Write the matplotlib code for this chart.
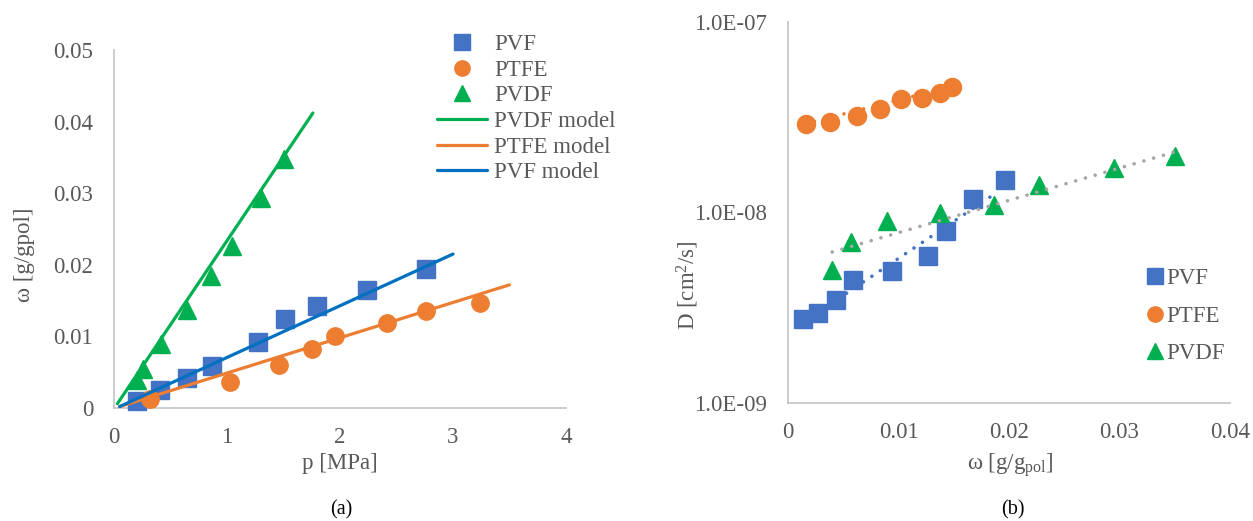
import matplotlib
matplotlib.use("Agg")
import matplotlib.pyplot as plt
from matplotlib.lines import Line2D
from matplotlib.ticker import FixedLocator, FuncFormatter, NullLocator

plt.rcParams["font.family"] = ["Liberation Serif", "DejaVu Serif"]
plt.rcParams["mathtext.fontset"] = "custom"
plt.rcParams["mathtext.rm"] = "Liberation Serif"
plt.rcParams["mathtext.it"] = "Liberation Serif:italic"

# ---- (a) sorption isotherms: omega vs pressure ----
p_pvf = [0.20, 0.41, 0.65, 0.87, 1.27, 1.51, 1.80, 2.24, 2.76]
w_pvf = [0.0010, 0.0025, 0.0042, 0.0059, 0.0092, 0.0124, 0.0142, 0.0165, 0.0194]

p_ptfe = [0.32, 1.03, 1.46, 1.75, 1.96, 2.42, 2.76, 3.24]
w_ptfe = [0.0013, 0.0036, 0.0060, 0.0082, 0.0100, 0.0119, 0.0136, 0.0147]

p_pvdf = [0.20, 0.26, 0.42, 0.65, 0.86, 1.04, 1.30, 1.50]
w_pvdf = [0.0039, 0.0054, 0.0089, 0.0137, 0.0184, 0.0226, 0.0293, 0.0348]

# model lines (start / end points)
p_pvdf_model = [0.03, 1.76]
w_pvdf_model = [0.0006, 0.0412]
p_ptfe_model = [0.05, 3.50]
w_ptfe_model = [0.0002, 0.0172]
p_pvf_model = [0.05, 3.00]
w_pvf_model = [0.0002, 0.0215]

# ---- (b) diffusivity vs concentration ----
c_pvf = [0.0014, 0.0027, 0.0043, 0.0059, 0.0094, 0.0127, 0.0143, 0.0167, 0.0196]
d_pvf = [2.76e-9, 2.96e-9, 3.47e-9, 4.44e-9, 4.94e-9, 5.91e-9, 8.0e-9, 1.18e-8, 1.48e-8]

c_ptfe = [0.0016, 0.0038, 0.0062, 0.0083, 0.0102, 0.0121, 0.0138, 0.0148]
d_ptfe = [2.92e-8, 2.99e-8, 3.21e-8, 3.49e-8, 3.95e-8, 3.99e-8, 4.24e-8, 4.56e-8]

c_pvdf = [0.0040, 0.0057, 0.0090, 0.0138, 0.0186, 0.0227, 0.0295, 0.0350]
d_pvdf = [4.99e-9, 7.0e-9, 9.0e-9, 9.9e-9, 1.09e-8, 1.39e-8, 1.71e-8, 1.98e-8]

# exponential trend lines (end points; straight on a log-y axis)
c_pvf_trend = [0.0053, 0.0186]
d_pvf_trend = [3.77e-9, 1.24e-8]
c_ptfe_trend = [0.0015, 0.0150]
d_ptfe_trend = [2.92e-8, 4.61e-8]
c_pvdf_trend = [0.0040, 0.0350]
d_pvdf_trend = [6.2e-9, 2.08e-8]

x_ticks_a = [0, 1, 2, 3, 4]
y_ticks_a = [0, 0.01, 0.02, 0.03, 0.04, 0.05]
x_ticks_b = [0, 0.01, 0.02, 0.03, 0.04]
y_ticks_b = [1e-9, 1e-8, 1e-7]

BLUE = "#4472C4"
ORANGE = "#ED7D31"
GREEN = "#00B050"
MODEL_BLUE = "#0070C0"
GRAY_TREND = "#A5A5A5"
TEXT = "#595959"
SPINE = "#C8C8C8"
FS = 16.5

fig = plt.figure(figsize=(12.53, 5.21), dpi=100)
W, H = 1253, 521


def axes_at(x0, y0, x1, y1):
    return fig.add_axes([x0 / W, 1 - y1 / H, (x1 - x0) / W, (y1 - y0) / H])


def style(ax):
    for s in ("top", "right"):
        ax.spines[s].set_visible(False)
    for s in ("left", "bottom"):
        ax.spines[s].set_color(SPINE)
        ax.spines[s].set_linewidth(1.3)
    ax.tick_params(length=0, labelsize=FS, labelcolor=TEXT)
    ax.tick_params(axis="x", pad=14)
    ax.tick_params(axis="y", pad=15)


# ---------------- panel (a) ----------------
ax1 = axes_at(114, 50, 566, 408)
style(ax1)
ax1.set_xlim(0, 4)
ax1.set_ylim(0, 0.05)
ax1.xaxis.set_major_locator(FixedLocator(x_ticks_a))
ax1.yaxis.set_major_locator(FixedLocator(y_ticks_a))
ax1.xaxis.set_major_formatter(FuncFormatter(lambda v, _: f"{v:g}"))
ax1.yaxis.set_major_formatter(FuncFormatter(lambda v, _: "0" if v == 0 else f"{v:.2f}"))

ax1.plot(p_pvf, w_pvf, ls="none", marker="s", ms=12.5, color=BLUE, zorder=3, clip_on=False)
ax1.plot(p_ptfe, w_ptfe, ls="none", marker="o", ms=12.5, color=ORANGE, zorder=3, clip_on=False)
ax1.plot(p_pvdf, w_pvdf, ls="none", marker="^", ms=13, color=GREEN, zorder=3, clip_on=False)
ax1.plot(p_pvdf_model, w_pvdf_model, color=GREEN, lw=2.3, solid_capstyle="round", zorder=4)
ax1.plot(p_ptfe_model, w_ptfe_model, color=ORANGE, lw=2.3, solid_capstyle="round", zorder=4)
ax1.plot(p_pvf_model, w_pvf_model, color=MODEL_BLUE, lw=2.3, solid_capstyle="round", zorder=4)

ax1.set_xlabel("p [MPa]", fontsize=FS, color=TEXT)
ax1.xaxis.set_label_coords(0.5, -0.154)
ax1.xaxis.label.set_va("center")
ax1.set_ylabel("ω [g/gpol]", fontsize=FS, color=TEXT)
ax1.yaxis.set_label_coords(-0.197, 0.427)
ax1.yaxis.label.set_va("center")

handles_a = [
    Line2D([], [], ls="none", marker="s", ms=11, color=BLUE),
    Line2D([], [], ls="none", marker="o", ms=11, color=ORANGE),
    Line2D([], [], ls="none", marker="^", ms=11, color=GREEN),
    Line2D([], [], color=GREEN, lw=2.3, solid_capstyle="round"),
    Line2D([], [], color=ORANGE, lw=2.3, solid_capstyle="round"),
    Line2D([], [], color=MODEL_BLUE, lw=2.3, solid_capstyle="round"),
]
labels_a = ["PVF", "PTFE", "PVDF", "PVDF model", "PTFE model", "PVF model"]
leg_a = fig.legend(handles_a, labels_a, loc="upper left",
                   bbox_to_anchor=(437 / W, 1 - 34 / H), frameon=False,
                   fontsize=FS, labelcolor=TEXT, handlelength=2.2,
                   handletextpad=0.3, labelspacing=0.2, borderpad=0,
                   borderaxespad=0)

# ---------------- panel (b) ----------------
ax2 = axes_at(788, 22, 1230, 403)
style(ax2)
ax2.set_yscale("log")
ax2.set_xlim(0, 0.04)
ax2.set_ylim(1e-9, 1e-7)
ax2.xaxis.set_major_locator(FixedLocator(x_ticks_b))
ax2.yaxis.set_major_locator(FixedLocator(y_ticks_b))
ax2.yaxis.set_minor_locator(NullLocator())
ax2.xaxis.set_major_formatter(FuncFormatter(lambda v, _: "0" if v == 0 else f"{v:.2f}"))
ax2.yaxis.set_major_formatter(FuncFormatter(lambda v, _: f"{v:.1E}"))

ax2.plot(c_pvf, d_pvf, ls="none", marker="s", ms=12.5, color=BLUE, zorder=3)
ax2.plot(c_ptfe, d_ptfe, ls="none", marker="o", ms=13, color=ORANGE, zorder=3)
ax2.plot(c_pvdf, d_pvdf, ls="none", marker="^", ms=13, color=GREEN, zorder=3)

dots = (0, (0.01, 2.8))
ax2.plot(c_pvf_trend, d_pvf_trend, color=BLUE, lw=2.6, ls=dots, dash_capstyle="round", zorder=4)
ax2.plot(c_ptfe_trend, d_ptfe_trend, color=ORANGE, lw=2.6, ls=dots, dash_capstyle="round", zorder=2)
ax2.plot(c_pvdf_trend, d_pvdf_trend, color=GRAY_TREND, lw=2.6, ls=dots, dash_capstyle="round", zorder=4)

ax2.set_xlabel(r"ω [g/g$_{\mathrm{pol}}$]", fontsize=FS, color=TEXT)
ax2.xaxis.set_label_coords(0.502, -0.163)
ax2.xaxis.label.set_va("center")
ax2.set_ylabel(r"D [cm$^{2}$/s]", fontsize=FS, color=TEXT)
ax2.yaxis.set_label_coords(-0.226, 0.31)
ax2.yaxis.label.set_va("center")

handles_b = [
    Line2D([], [], ls="none", marker="s", ms=11, color=BLUE),
    Line2D([], [], ls="none", marker="o", ms=11, color=ORANGE),
    Line2D([], [], ls="none", marker="^", ms=11, color=GREEN),
]
labels_b = ["PVF", "PTFE", "PVDF"]
leg_b = fig.legend(handles_b, labels_b, loc="upper left",
                   bbox_to_anchor=(1148 / W, 1 - 268 / H), frameon=False,
                   fontsize=FS, labelcolor=TEXT, handlelength=0.6,
                   handletextpad=0.2, labelspacing=0.72, borderpad=0,
                   borderaxespad=0)

fig.text(341 / W, 1 - 510 / H, "(a)", ha="center", va="center", fontsize=14.5, color="black")
fig.text(1013 / W, 1 - 510 / H, "(b)", ha="center", va="center", fontsize=14.5, color="black")

fig.savefig("out.png", dpi=100)
